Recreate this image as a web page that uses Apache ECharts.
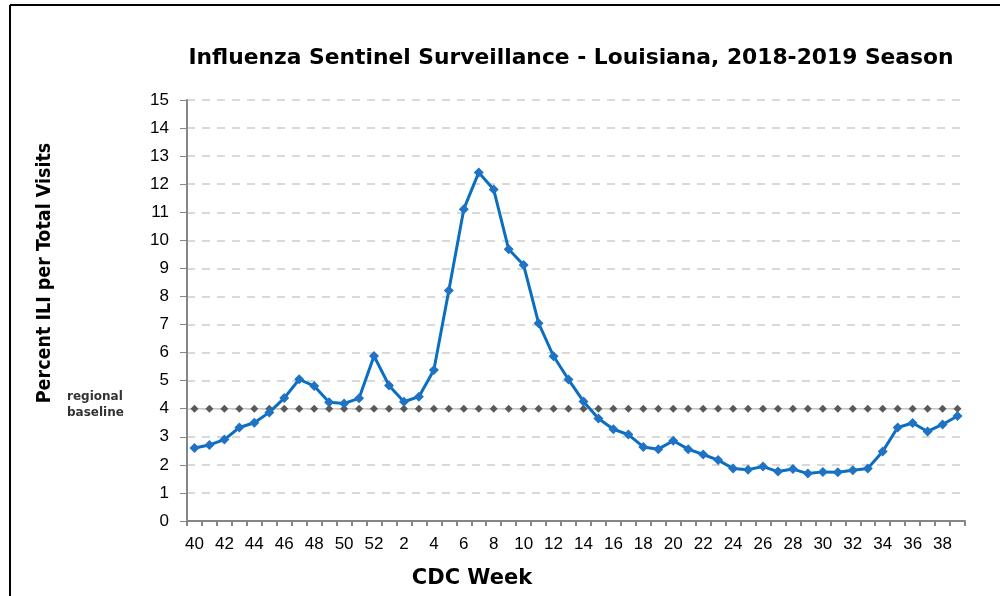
<!DOCTYPE html>
<html>
<head>
<meta charset="utf-8">
<script src="https://cdn.jsdelivr.net/npm/echarts@6/dist/echarts.min.js"></script>
<style>html,body{margin:0;padding:0;background:#fff;}#c{width:1000px;height:596px;}</style>
</head>
<body>
<div id="c"></div>
<script>
const weeks = [40,41,42,43,44,45,46,47,48,49,50,51,52,1,2,3,4,5,6,7,8,9,10,11,12,13,14,15,16,17,18,19,20,21,22,23,24,25,26,27,28,29,30,31,32,33,34,35,36,37,38,39];
const iliPercent = [2.60,2.71,2.90,3.33,3.50,3.87,4.38,5.05,4.81,4.23,4.19,4.37,5.88,4.83,4.25,4.43,5.38,8.21,11.11,12.42,11.81,9.68,9.12,7.05,5.87,5.04,4.26,3.65,3.27,3.08,2.64,2.56,2.86,2.56,2.37,2.17,1.87,1.83,1.94,1.76,1.85,1.69,1.75,1.74,1.81,1.87,2.48,3.33,3.49,3.19,3.44,3.74];
const baselineValue = 4.0;
const baseline = weeks.map(() => baselineValue);
const yMin = 0, yMax = 15, yInterval = 1;
const titleText = 'Influenza Sentinel Surveillance - Louisiana, 2018-2019 Season';
const yAxisTitle = 'Percent ILI per Total Visits';
const xAxisTitle = 'CDC Week';
const baselineLabel = 'regional\nbaseline';

const chart = echarts.init(document.getElementById('c'), null, {renderer:'canvas'});
chart.setOption({
  animation: false,
  backgroundColor: '#ffffff',
  grid: {left: 187, right: 35, top: 100, bottom: 75},
  xAxis: {
    type: 'category',
    data: weeks.map(String),
    boundaryGap: true,
    axisLine: {lineStyle: {color: '#868686', width: 2}},
    axisTick: {show: true, interval: 0, length: 5, lineStyle: {color: '#868686', width: 2}},
    axisLabel: {interval: 1, fontFamily: 'Liberation Sans', fontSize: 17, color: '#000', margin: 15},
    splitLine: {show: false}
  },
  yAxis: {
    type: 'value',
    min: yMin, max: yMax, interval: yInterval,
    axisLine: {show: true, lineStyle: {color: '#868686', width: 2}},
    axisTick: {show: true, length: 7, lineStyle: {color: '#868686', width: 1}},
    axisLabel: {fontFamily: 'Liberation Sans', fontSize: 17, color: '#000', margin: 18},
    splitLine: {show: true, lineStyle: {color: '#d9d9d9', width: 2, type: [8, 7]}}
  },
  series: [
    {
      name: 'regional baseline',
      type: 'line',
      data: baseline,
      symbol: 'diamond',
      symbolSize: 8,
      showAllSymbol: true,
      itemStyle: {color: '#595959'},
      lineStyle: {color: '#c8c8c8', width: 1.5},
      z: 2
    },
    {
      name: 'ILI',
      type: 'line',
      data: iliPercent,
      symbol: 'diamond',
      symbolSize: 10,
      showAllSymbol: true,
      itemStyle: {color: '#1F72C4'},
      lineStyle: {color: '#0A6EC2', width: 3},
      z: 3
    }
  ],
  graphic: [
    {type: 'line', shape: {x1: 10, y1: 5, x2: 1000, y2: 5}, style: {stroke: '#000', lineWidth: 2}},
    {type: 'line', shape: {x1: 10, y1: 5, x2: 10, y2: 596}, style: {stroke: '#000', lineWidth: 2}},
    {type: 'text', x: 571, y: 58,
     style: {text: titleText, align: 'center', verticalAlign: 'middle', fontFamily: 'DejaVu Sans', fontWeight: 'bold', fontSize: 21.8, fill: '#000'}},
    {type: 'text', x: 45, y: 273, rotation: Math.PI / 2,
     style: {text: yAxisTitle, align: 'center', verticalAlign: 'middle', fontFamily: 'DejaVu Sans Condensed', fontWeight: 'bold', fontSize: 19.5, fill: '#000'}},
    {type: 'text', x: 472, y: 579,
     style: {text: xAxisTitle, align: 'center', verticalAlign: 'middle', fontFamily: 'DejaVu Sans', fontWeight: 'bold', fontSize: 21, fill: '#000'}},
    {type: 'text', left: 67, top: 389, style: {text: baselineLabel, fontFamily: 'DejaVu Sans', fontWeight: 'bold', fontSize: 12, lineHeight: 16, fill: '#333'}}
  ]
});
</script>
</body>
</html>
